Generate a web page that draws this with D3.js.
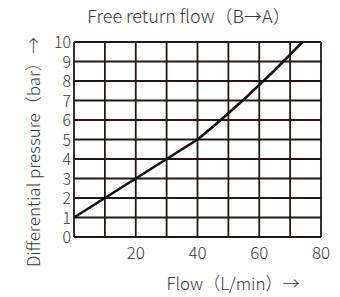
<!DOCTYPE html>
<html>
<head>
<meta charset="utf-8">
<script src="https://cdn.jsdelivr.net/npm/d3@7"></script>
<style>
  body { margin: 0; background: #fff; }
  text { font-family: "Noto Sans CJK SC", "Noto Sans", sans-serif; fill: #3a3a3a; font-weight: 300; }
</style>
</head>
<body>
<svg width="340" height="297"></svg>
<script>
var flow = [0, 10, 20, 30, 40, 45, 50, 55, 60, 65, 70, 74];
var pressure = [1, 2, 3, 4, 5, 5.65, 6.35, 7.05, 7.8, 8.55, 9.35, 10];
var xTicks = [20, 40, 60, 80];
var yTicks = [0, 1, 2, 3, 4, 5, 6, 7, 8, 9, 10];

var svg = d3.select("svg");
var pl = 74, pr = 321, pt = 42, pb = 237;
var ink = "#231815";

var x = d3.scaleLinear().domain([0, 80]).range([pl, pr]);
var y = d3.scaleLinear().domain([0, 10]).range([pb, pt]);

// grid
svg.append("g").selectAll("line")
    .data(d3.range(0, 81, 10))
    .enter().append("line")
    .attr("x1", function(d) { return x(d); })
    .attr("x2", function(d) { return x(d); })
    .attr("y1", pt).attr("y2", pb)
    .attr("stroke", ink).attr("stroke-width", 1.8);

svg.append("g").selectAll("line")
    .data(yTicks)
    .enter().append("line")
    .attr("x1", pl).attr("x2", pr)
    .attr("y1", function(d) { return y(d); })
    .attr("y2", function(d) { return y(d); })
    .attr("stroke", ink).attr("stroke-width", 1.8);

// curve
var pts = flow.map(function(f, i) { return [f, pressure[i]]; });
svg.append("path")
    .datum(pts)
    .attr("fill", "none")
    .attr("stroke", "#111")
    .attr("stroke-width", 2.6)
    .attr("stroke-linejoin", "round")
    .attr("d", d3.line()
        .x(function(d) { return x(d[0]); })
        .y(function(d) { return y(d[1]); }));

// tick labels
svg.append("g").selectAll("text")
    .data(yTicks)
    .enter().append("text")
    .attr("x", pl - 3)
    .attr("y", function(d) { return y(d) + 6; })
    .attr("text-anchor", "end")
    .attr("font-size", 16)
    .text(function(d) { return d; });

svg.append("g").selectAll("text")
    .data(xTicks)
    .enter().append("text")
    .attr("x", function(d) { return x(d); })
    .attr("y", 259)
    .attr("text-anchor", "middle")
    .attr("font-size", 17)
    .text(function(d) { return d; });

// titles
svg.append("text")
    .attr("x", 189).attr("y", 23)
    .attr("text-anchor", "middle")
    .attr("font-size", 18)
    .text("Free return flow（B→A）");

svg.append("text")
    .attr("x", 233).attr("y", 290)
    .attr("text-anchor", "middle")
    .attr("font-size", 17)
    .text("Flow（L/min）→");

svg.append("text")
    .attr("transform", "translate(40,152) rotate(-90)")
    .attr("text-anchor", "middle")
    .attr("font-size", 17)
    .text("Differential pressure（bar）→");
</script>
</body>
</html>
